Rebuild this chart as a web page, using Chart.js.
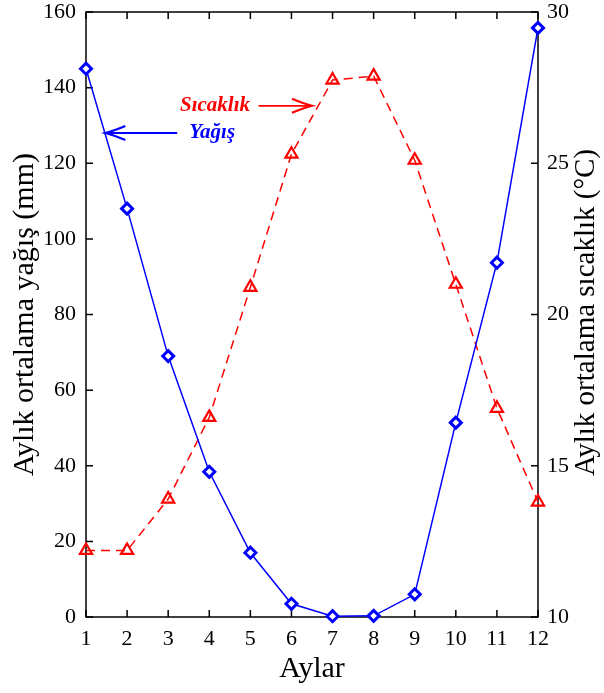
<!DOCTYPE html>
<html>
<head>
<meta charset="utf-8">
<script src="https://cdn.jsdelivr.net/npm/chart.js@4"></script>
<style>
  html, body { margin: 0; padding: 0; background: #fff; }
  #wrap { width: 604px; height: 693px; }
</style>
</head>
<body>
<div id="wrap"><canvas id="chart" width="604" height="693"></canvas></div>
<script>
/* veriler */
const aylar = [1, 2, 3, 4, 5, 6, 7, 8, 9, 10, 11, 12];
const yagis = [145, 108, 69, 38.4, 17, 3.5, 0.2, 0.3, 6, 51.4, 93.7, 155.8];
const sicaklik = [12.2, 12.2, 13.9, 16.6, 20.9, 25.3, 27.75, 27.88, 25.1, 21.0, 16.9, 13.8];

const yagisTicks = [0, 20, 40, 60, 80, 100, 120, 140, 160];
const sicaklikTicks = [10, 15, 20, 25, 30];

/* etiketler: metin, ok başı ve kuyruğu (eksen değerleri) */
const oklar = [
  { text: "Sıcaklık", color: "#ff0000", tx: 4.14, ty: 135.2, from: 5.2, to: 6.5, y: 135.2 },
  { text: "Yağış", color: "#0000ff", tx: 4.07, ty: 128, from: 3.22, to: 1.47, y: 128 }
];

const FONT = "'Liberation Serif', 'Times New Roman', serif";

/* çerçeve ve içe dönük tikler */
const cerceve = {
  id: "cerceve",
  beforeDatasetsDraw(chart) {
    const { ctx, chartArea: a, scales } = chart;
    const L = 7;
    ctx.save();
    ctx.strokeStyle = "#000";
    ctx.lineWidth = 1.5;
    ctx.strokeRect(a.left, a.top, a.right - a.left, a.bottom - a.top);
    ctx.beginPath();
    scales.x.ticks.forEach(t => {
      const px = scales.x.getPixelForValue(t.value);
      ctx.moveTo(px, a.bottom); ctx.lineTo(px, a.bottom - L);
      ctx.moveTo(px, a.top); ctx.lineTo(px, a.top + L);
    });
    scales.y.ticks.forEach(t => {
      const py = scales.y.getPixelForValue(t.value);
      ctx.moveTo(a.left, py); ctx.lineTo(a.left + L, py);
    });
    scales.y2.ticks.forEach(t => {
      const py = scales.y2.getPixelForValue(t.value);
      ctx.moveTo(a.right, py); ctx.lineTo(a.right - L, py);
    });
    ctx.stroke();
    ctx.restore();
  },
  afterDraw(chart) {
    const { ctx, chartArea: a, scales } = chart;
    ctx.save();

    // sağ eksen başlığı (aşağıdan yukarı okunur)
    ctx.fillStyle = "#000";
    ctx.font = "29px " + FONT;
    ctx.textAlign = "center";
    ctx.textBaseline = "middle";
    ctx.translate(586, (a.top + a.bottom) / 2 - 2);
    ctx.rotate(-Math.PI / 2);
    ctx.fillText("Aylık ortalama sıcaklık (°C)", 0, 0);
    ctx.setTransform(1, 0, 0, 1, 0, 0);

    // oklu etiketler
    oklar.forEach(o => {
      const x = scales.x, y = scales.y;
      ctx.fillStyle = o.color;
      ctx.strokeStyle = o.color;
      ctx.font = "bold italic 21px " + FONT;
      ctx.textAlign = "center";
      ctx.textBaseline = "middle";
      ctx.fillText(o.text, x.getPixelForValue(o.tx), y.getPixelForValue(o.ty));

      const x0 = x.getPixelForValue(o.from);
      const x1 = x.getPixelForValue(o.to);
      const py = y.getPixelForValue(o.y);
      const dir = Math.sign(x1 - x0);
      ctx.lineWidth = 1.8;
      ctx.beginPath();
      ctx.moveTo(x0, py); ctx.lineTo(x1, py);
      ctx.stroke();
      ctx.lineWidth = 2.2;
      ctx.beginPath();
      ctx.moveTo(x1 - dir * 20, py - 7);
      ctx.quadraticCurveTo(x1 - dir * 8, py - 2, x1, py);
      ctx.quadraticCurveTo(x1 - dir * 8, py + 2, x1 - dir * 20, py + 7);
      ctx.stroke();
    });
    ctx.restore();
  }
};

new Chart(document.getElementById("chart"), {
  type: "line",
  data: {
    datasets: [
      {
        label: "Yağış",
        data: aylar.map((m, i) => ({ x: m, y: yagis[i] })),
        yAxisID: "y",
        borderColor: "#0000ff",
        borderWidth: 1.5,
        pointStyle: "rectRot",
        pointRadius: 5.5,
        pointBorderWidth: 3,
        pointBackgroundColor: "#ffffff",
        pointBorderColor: "#0000ff",
        tension: 0,
        clip: false
      },
      {
        label: "Sıcaklık",
        data: aylar.map((m, i) => ({ x: m, y: sicaklik[i] })),
        yAxisID: "y2",
        borderColor: "#ff0000",
        borderWidth: 1.5,
        borderDash: [9, 6],
        pointStyle: "triangle",
        pointRadius: 7,
        pointBorderWidth: 2.2,
        pointBackgroundColor: "rgba(255,255,255,0)",
        pointBorderColor: "#ff0000",
        tension: 0,
        clip: false
      }
    ]
  },
  options: {
    responsive: false,
    animation: false,
    layout: { padding: { top: 12, left: 0, right: 0, bottom: 0 } },
    plugins: {
      legend: { display: false },
      tooltip: { enabled: false }
    },
    scales: {
      x: {
        type: "linear",
        min: 1,
        max: 12,
        afterBuildTicks: s => { s.ticks = aylar.map(v => ({ value: v })); },
        afterFit: s => { s.height = 76; s.paddingLeft = 0; s.paddingRight = 0; },
        grid: { display: false, drawTicks: false },
        border: { display: false },
        ticks: { color: "#000", padding: 9, font: { family: FONT, size: 22 } },
        title: {
          display: true,
          text: "Aylar",
          color: "#000",
          font: { family: FONT, size: 30 },
          padding: { top: 0, bottom: 6 }
        }
      },
      y: {
        position: "left",
        min: 0,
        max: 160,
        afterBuildTicks: s => { s.ticks = yagisTicks.map(v => ({ value: v })); },
        afterFit: s => { s.width = 86; s.paddingTop = 0; s.paddingBottom = 0; },
        grid: { display: false, drawTicks: false },
        border: { display: false },
        ticks: { color: "#000", padding: 10, font: { family: FONT, size: 22 } },
        title: {
          display: true,
          text: "Aylık ortalama yağış (mm)",
          color: "#000",
          font: { family: FONT, size: 30 },
          padding: { top: 7, bottom: 0 }
        }
      },
      y2: {
        position: "right",
        min: 10,
        max: 30,
        afterBuildTicks: s => { s.ticks = sicaklikTicks.map(v => ({ value: v })); },
        afterFit: s => { s.width = 66; s.paddingTop = 0; s.paddingBottom = 0; },
        grid: { display: false, drawTicks: false },
        border: { display: false },
        ticks: { color: "#000", padding: 9, font: { family: FONT, size: 22 } }
      }
    }
  },
  plugins: [cerceve]
});
</script>
</body>
</html>
